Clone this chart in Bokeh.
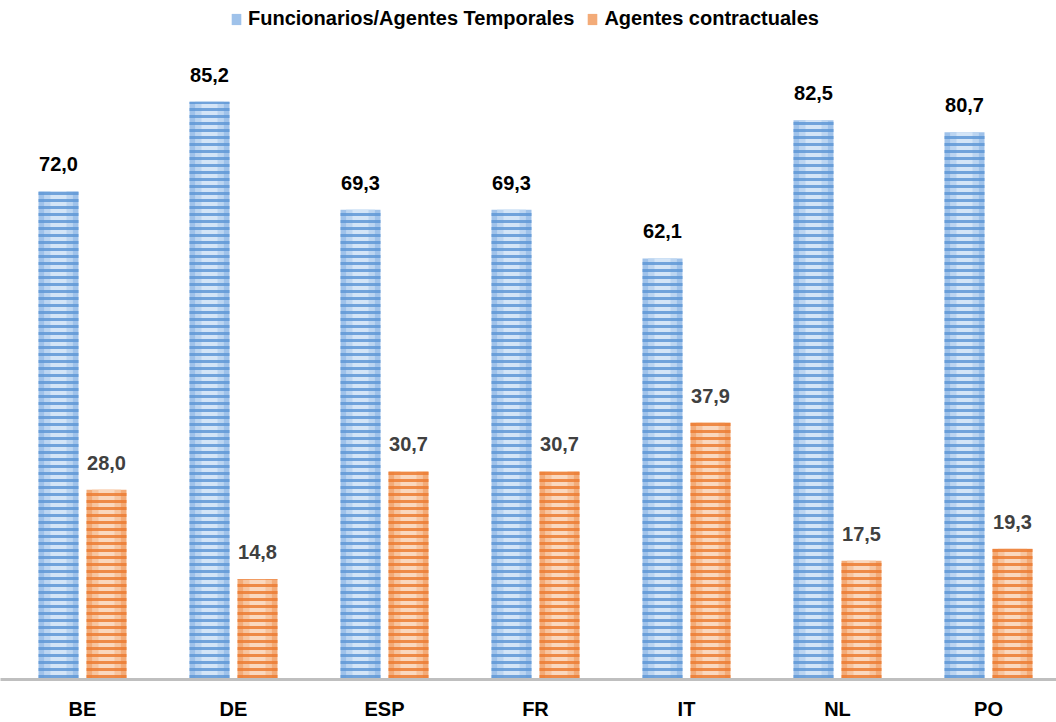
from bokeh.plotting import figure
from bokeh.models import Range1d, FixedTicker, Legend, LegendItem, ColumnDataSource
from bokeh.transform import dodge
from bokeh.core.properties import value
from bokeh.embed import file_html
from bokeh.resources import INLINE

# ---- data ----
categories = ["BE", "DE", "ESP", "FR", "IT", "NL", "PO"]
funcionarios = [72.0, 85.2, 69.3, 69.3, 62.1, 82.5, 80.7]
contractuales = [28.0, 14.8, 30.7, 30.7, 37.9, 17.5, 19.3]
series_names = ["Funcionarios/Agentes Temporales", "Agentes contractuales"]

xs = list(range(len(categories)))
src = ColumnDataSource(dict(
    x=xs,
    f=funcionarios,
    c=contractuales,
    fl=[f"{v:.1f}".replace(".", ",") for v in funcionarios],
    cl=[f"{v:.1f}".replace(".", ",") for v in contractuales],
))

W, H = 1056, 722
FRAME_H = 679
px_per_cat = 151.0
x_start = -82.0 / px_per_cat
p = figure(width=W, height=H, output_backend="svg", toolbar_location=None,
           x_range=Range1d(x_start, x_start + W / px_per_cat),
           y_range=Range1d(0, FRAME_H / 6.78),
           y_axis_location=None,
           min_border_left=0, min_border_right=0, min_border_top=0,
           min_border_bottom=H - FRAME_H)
p.outline_line_color = None
p.xgrid.visible = False
p.ygrid.visible = False
p.background_fill_color = "white"
p.border_fill_color = "white"

FONT = "Liberation Sans"
bw = 40 / px_per_cat
off = 24 / px_per_cat


def striped(xoff, top, edge, mid, center, stripe):
    base = p.vbar(x=dodge("x", xoff), top=top, width=bw, bottom=0, source=src,
                  fill_color=edge, line_color=None)
    p.vbar(x=dodge("x", xoff), top=top, width=bw * 0.72, bottom=0, source=src,
           fill_color=mid, line_color=None)
    p.vbar(x=dodge("x", xoff), top=top, width=bw * 0.4, bottom=0, source=src,
           fill_color=center, line_color=None)
    p.vbar(x=dodge("x", xoff), top=top, width=bw, bottom=0, source=src,
           fill_alpha=0, line_color=None,
           hatch_pattern="horizontal_line", hatch_color=stripe,
           hatch_weight=3, hatch_scale=7, hatch_alpha=0.85)
    return base


b1 = striped(-off, "f", "#9fc2ea", "#bcd5f1", "#d4e5f7", "#5f98d6")
b2 = striped(off, "c", "#f3ab78", "#f7c5a0", "#fad8bf", "#ec7d33")

p.text(x=dodge("x", -off), y="f", text="fl", source=src,
       text_align="center", text_baseline="alphabetic", y_offset=-27,
       text_font=value(FONT), text_font_style="bold", text_font_size="20px",
       text_color="#000000")
p.text(x=dodge("x", off), y="c", text="cl", source=src,
       text_align="center", text_baseline="alphabetic", y_offset=-27,
       text_font=value(FONT), text_font_style="bold", text_font_size="20px",
       text_color="#404040")

ax = p.xaxis[0]
ax.ticker = FixedTicker(ticks=xs)
ax.major_label_overrides = {i: c for i, c in enumerate(categories)}
ax.major_tick_out = 0
ax.major_tick_in = 0
ax.minor_tick_out = 0
ax.minor_tick_in = 0
ax.axis_line_color = "#bfbfbf"
ax.axis_line_width = 3
ax.major_label_standoff = 18
ax.major_label_text_font = FONT
ax.major_label_text_font_style = "bold"
ax.major_label_text_font_size = "20px"
ax.major_label_text_color = "#000000"

legend = Legend(items=[LegendItem(label=series_names[0], renderers=[b1]),
                       LegendItem(label=series_names[1], renderers=[b2])],
                orientation="horizontal", location=(230, 649),
                border_line_color=None, background_fill_alpha=0,
                padding=0, margin=0, spacing=12,
                glyph_width=12, glyph_height=14, label_standoff=6,
                label_text_font=FONT, label_text_font_style="bold",
                label_text_font_size="20px", label_text_color="#000000")
p.add_layout(legend)

open("out.html", "w").write(file_html(p, INLINE))
